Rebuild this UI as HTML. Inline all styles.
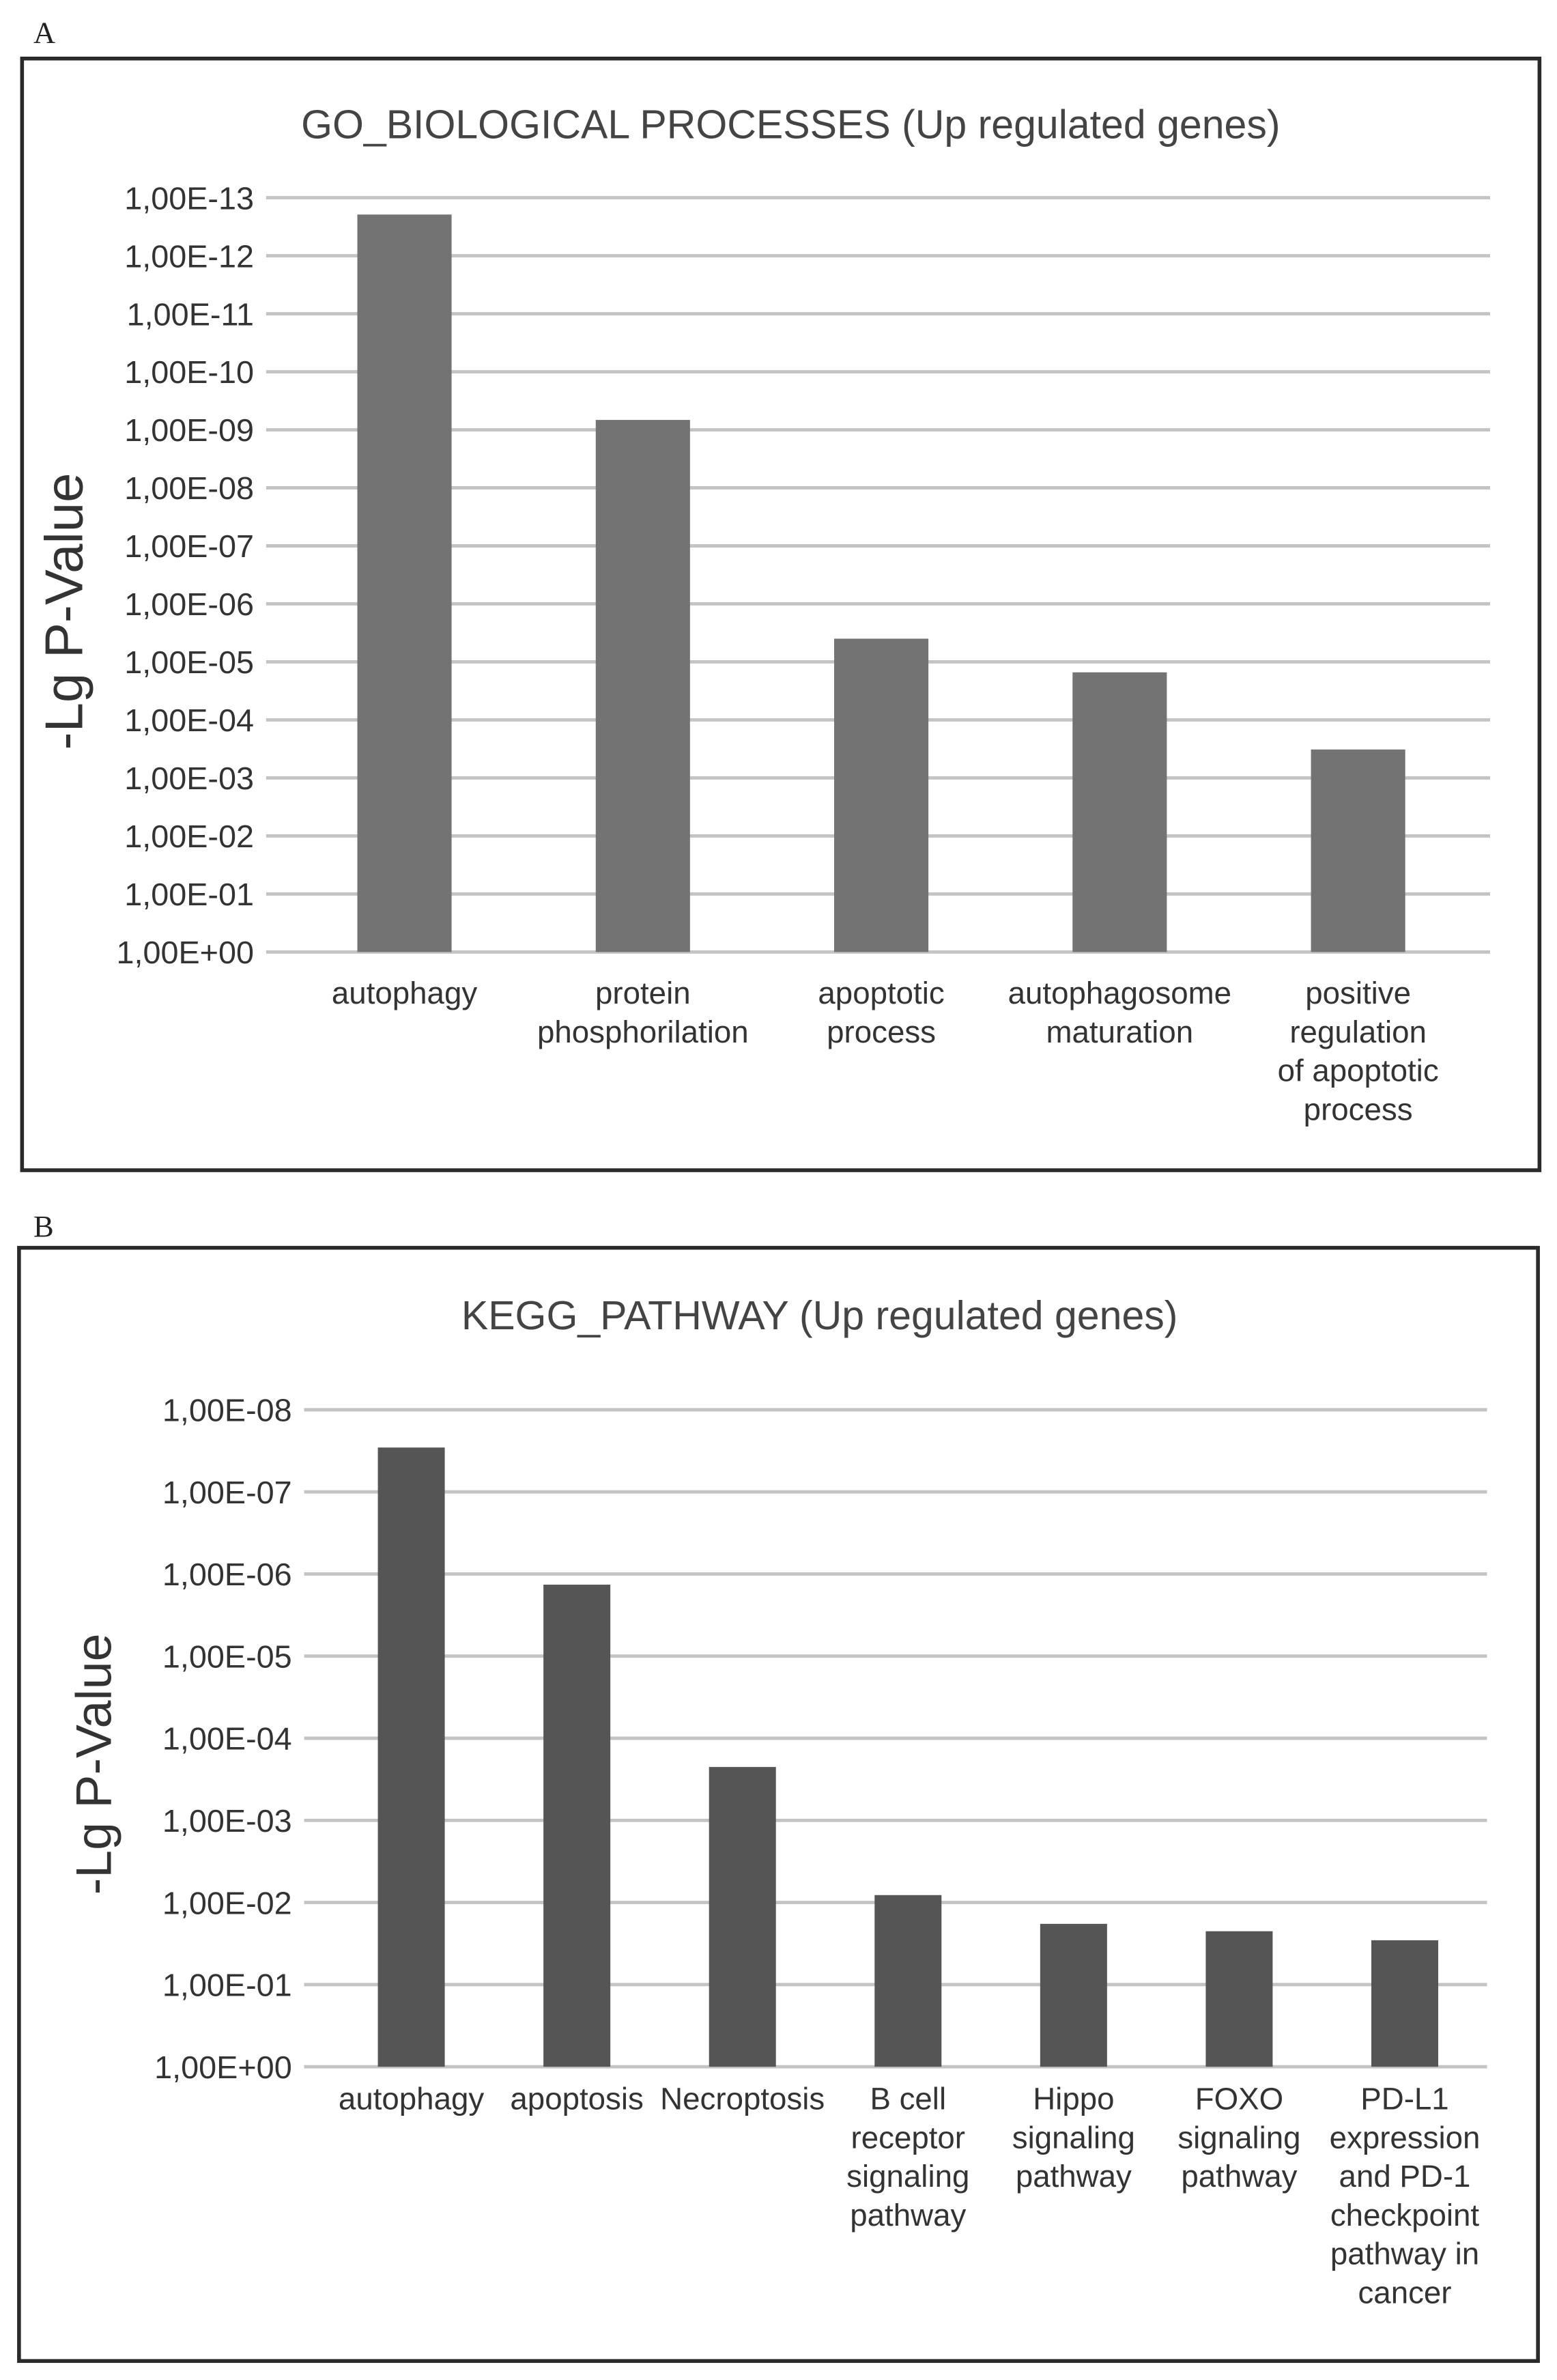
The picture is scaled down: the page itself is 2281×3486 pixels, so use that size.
<!DOCTYPE html>
<html><head><meta charset="utf-8">
<style>
html,body{margin:0;padding:0;background:#fff;}
svg{display:block;font-family:"Liberation Sans",Arial,sans-serif;}
</style></head>
<body>
<svg id="fig" width="2281" height="3486" viewBox="0 0 1024 1565" xmlns="http://www.w3.org/2000/svg">
<rect x="0" y="0" width="1024" height="1565" fill="#fff"/>
<text x="22" y="28" font-family="Liberation Serif,serif" font-size="20" fill="#222">A</text>
<rect x="14.5" y="38.5" width="998" height="731" fill="#fff" stroke="#2a2a2a" stroke-width="2.5"/>
<text x="520" y="91" text-anchor="middle" font-size="26.5" fill="#444">GO_BIOLOGICAL PROCESSES (Up regulated genes)</text>
<text transform="translate(54,402) rotate(-90)" text-anchor="middle" font-size="35" fill="#333">-Lg P-Value</text>
<g id="chartA"></g>

<text x="22" y="813" font-family="Liberation Serif,serif" font-size="20" fill="#222">B</text>
<rect x="12.5" y="820.5" width="999" height="732" fill="#fff" stroke="#2a2a2a" stroke-width="2.5"/>
<text x="539" y="874" text-anchor="middle" font-size="26.5" fill="#444">KEGG_PATHWAY (Up regulated genes)</text>
<text transform="translate(73,1160) rotate(-90)" text-anchor="middle" font-size="33" fill="#333">-Lg P-Value</text>
<g id="chartB"></g>
</svg>
<script>
// Panel A data
const catsA = [["autophagy"],["protein","phosphorilation"],["apoptotic","process"],["autophagosome","maturation"],["positive","regulation","of apoptotic","process"]];
const valsA = [12.71, 9.17, 5.4, 4.82, 3.49];
const ticksA = [0,1,2,3,4,5,6,7,8,9,10,11,12,13];
// Panel B data
const catsB = [["autophagy"],["apoptosis"],["Necroptosis"],["B cell","receptor","signaling","pathway"],["Hippo","signaling","pathway"],["FOXO","signaling","pathway"],["PD-L1","expression","and PD-1","checkpoint","pathway in","cancer"]];
const valsB = [7.54, 5.87, 3.65, 2.09, 1.74, 1.65, 1.54];
const ticksB = [0,1,2,3,4,5,6,7,8];

const NS = "http://www.w3.org/2000/svg";
function mk(tag, attrs, parent){
  const e = document.createElementNS(NS, tag);
  for (const k in attrs) e.setAttribute(k, attrs[k]);
  parent.appendChild(e);
  return e;
}
function tickText(k){ return k === 0 ? "1,00E+00" : "1,00E-" + String(k).padStart(2,"0"); }

function draw(g, cats, vals, ticks, cfg){
  const maxT = ticks[ticks.length-1];
  const y = v => cfg.y0 - (cfg.y0 - cfg.y1) * v / maxT;
  const xc = i => cfg.c0 + cfg.step * i;
  ticks.forEach(t => {
    const ln = mk("line", {x1:cfg.gx0, x2:cfg.gx1, y1:y(t), y2:y(t), stroke:"#c4c4c4", "stroke-width":2.2}, g);
    
    
    const tx = mk("text", {x:cfg.gx0-8, y:y(t)+7.5, "text-anchor":"end", "font-size":21, fill:"#333"}, g);
    tx.textContent = tickText(t);
    
    
  });
  vals.forEach((v, i) => {
    const r = mk("rect", {x:xc(i)-cfg.bw/2, y:y(v), width:cfg.bw, height:cfg.y0-y(v), fill:cfg.color}, g);
    
    
  });
  cats.forEach((lines, i) => {
    const t = mk("text", {x:xc(i), y:cfg.ly, "text-anchor":"middle", "font-size":cfg.fs, fill:"#333"}, g);
    lines.forEach((s, j) => {
      const sp = mk("tspan", {x:xc(i), dy: j===0 ? 0 : 25.5}, t);
      sp.textContent = s;
    });
    
    
  });
}
draw(document.getElementById("chartA"), catsA, valsA, ticksA,
  {y0:626, y1:130, gx0:175, gx1:980, c0:266, step:156.8, bw:62, color:"#737373", ly:660, fs:20.5});
draw(document.getElementById("chartB"), catsB, valsB, ticksB,
  {y0:1359, y1:927, gx0:200, gx1:978, c0:270.5, step:108.9, bw:44, color:"#555555", ly:1387, fs:20.5});
</script>
</body></html>
